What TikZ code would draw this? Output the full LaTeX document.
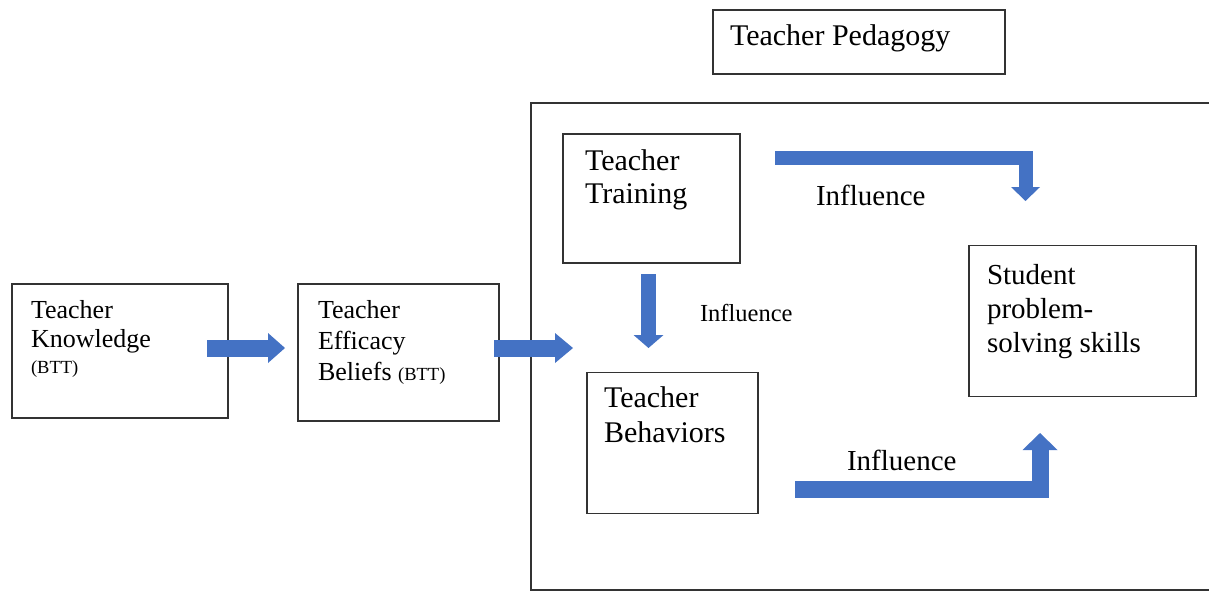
\documentclass[tikz,border=0pt]{standalone}
\usepackage{fontspec}
\setmainfont{Liberation Serif}
\usetikzlibrary{arrows.meta,calc}
\definecolor{flow}{HTML}{4472C4}
\definecolor{edge}{gray}{0.2}
\begin{document}
\begin{tikzpicture}[x=1pt,y=-1pt,
  box/.style={draw=edge,line width=1.8pt,inner sep=0pt,outer sep=0pt},
  lbl/.style={inner sep=0pt,outer sep=0pt,align=left,anchor=north west,text=black},
  blk/.style n args={3}{draw=flow,line width=#1pt,line cap=butt,line join=miter,
    -{Triangle[width=#2pt,length=#3pt,line width=0pt]}},
  small/.style={font=\fontsize{18.5}{22}\selectfont},
]
\useasboundingbox (0,0) rectangle (1209,592);
\clip (0,0) rectangle (1209,592);

% outer frame for the pedagogy block
\node[box,minimum width=684pt,minimum height=487pt] (frame) at (873,346.5) {};
\node[box,minimum width=292pt,minimum height=64pt] (ped) at (859,42) {};
\node[lbl,anchor=base west,font=\fontsize{30}{34}\selectfont] (pedT)
  at ($(ped.west)+(17,3)$) {Teacher Pedagogy};

% left-hand chain
\node[box,minimum width=216pt,minimum height=134pt] (know) at (120,351) {};
\node[lbl,font=\fontsize{26}{29.5}\selectfont] (knowT) at ($(know.north west)+(19,16)$)
  {Teacher\\Knowledge\\[-4pt]{\fontsize{18.5}{22}\selectfont(BTT)}};
\node[box,minimum width=201pt,minimum height=137pt] (eff) at (398.5,352.5) {};
\node[lbl,font=\fontsize{26}{31}\selectfont] (effT) at ($(eff.north west)+(20,16)$)
  {Teacher\\Efficacy\\Beliefs {\fontsize{18.5}{22}\selectfont(BTT)}};

% boxes inside the frame
\node[box,minimum width=177pt,minimum height=129pt] (train) at (651.5,198.5) {};
\node[lbl,font=\fontsize{30}{33.5}\selectfont] (trainT) at ($(train.north west)+(22,15.5)$)
  {Teacher\\Training};
\node[box,minimum width=171pt,minimum height=141pt] (behav) at (672.5,443) {};
\node[lbl,font=\fontsize{30}{35}\selectfont] (behavT) at ($(behav.north west)+(17,14)$)
  {Teacher\\Behaviors};
\node[box,minimum width=227pt,minimum height=151pt] (stud) at (1082.5,321) {};
\node[lbl,font=\fontsize{29}{34}\selectfont] (studT) at ($(stud.north west)+(18,18.5)$)
  {Student\\problem-\\solving skills};

% block arrows
\draw[blk={17}{30}{17}] ($(know.east)+(-21,-3)$) -- ($(eff.west)+(-13,-4.5)$);
\draw[blk={17}{30}{18}] ($(eff.east)+(-5,-4.5)$) -- ($(frame.west)+(42,1.5)$);
\draw[blk={15}{30}{13}] ($(train.south)+(-3,11)$) -- ($(behav.north)+(-24,-24.5)$);
\draw[blk={14}{29}{14}] ($(train.east)+(35,-40.5)$) -| ($(stud.north)+(-57,-44.5)$);
\draw[blk={17}{35}{17}] ($(behav.east)+(37,46.5)$) -| ($(stud.south)+(-42.5,36.5)$);

% arrow labels
\node[lbl,anchor=base west,font=\fontsize{24.5}{28}\selectfont] (inflMid) at (700,321) {Influence};
\node[lbl,anchor=base west,font=\fontsize{29}{33}\selectfont] (inflTop) at (816,205) {Influence};
\node[lbl,anchor=base west,font=\fontsize{29}{33}\selectfont] (inflBot) at (847,470) {Influence};
\end{tikzpicture}
\end{document}
